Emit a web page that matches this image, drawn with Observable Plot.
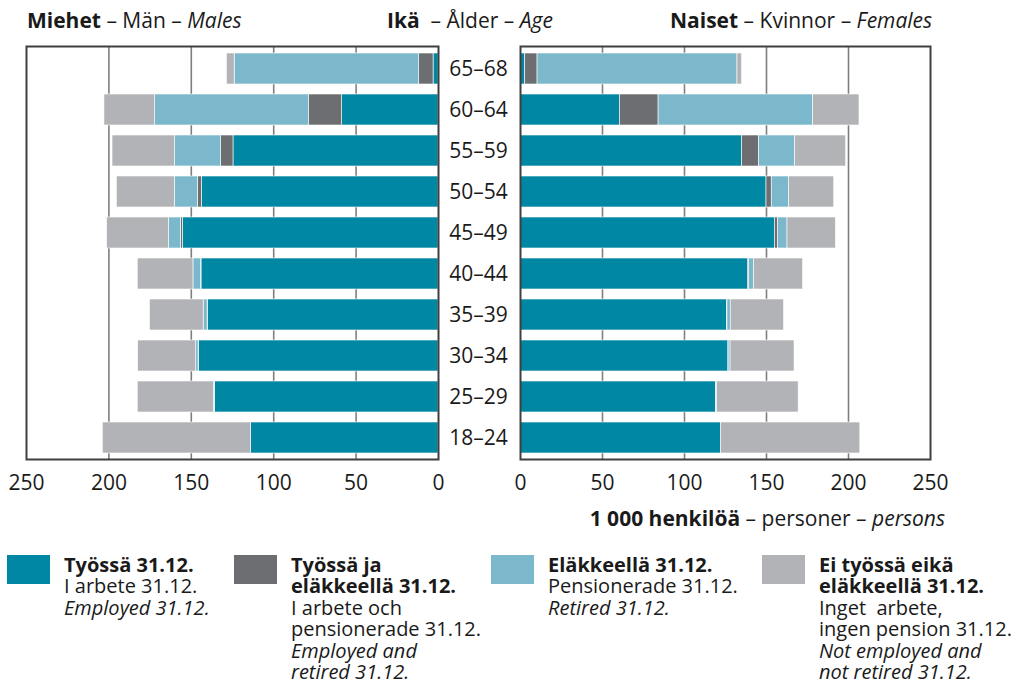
<!DOCTYPE html>
<html>
<head>
<meta charset="utf-8">
<script src="https://cdn.jsdelivr.net/npm/d3@7"></script>
<script src="https://cdn.jsdelivr.net/npm/@observablehq/plot@0.6"></script>
<style>
  html, body { margin: 0; padding: 0; background: #fff; }
  body { width: 1027px; height: 681px; position: relative; overflow: hidden; font-family: "Open Sans", "Noto Sans", sans-serif; color: #1a1a1a; }
  .abs { position: absolute; white-space: nowrap; }
  .hdr { font-size: 21px; line-height: 24px; }
  .leg { font-size: 20px; line-height: 21.4px; }
  .sw { position: absolute; width: 43px; height: 29px; }
  svg { overflow: visible; }
</style>
</head>
<body>
<div id="left" class="abs" style="left:0;top:0"></div>
<div id="right" class="abs" style="left:448px;top:0"></div>

<div class="abs hdr" style="left:27px;top:8px"><b>Miehet</b> – Män – <i>Males</i></div>
<div class="abs hdr" style="left:387px;top:8px"><b>Ikä</b>&nbsp; – Ålder – <i>Age</i></div>
<div class="abs hdr" style="left:670px;top:8px"><b>Naiset</b> – Kvinnor – <i>Females</i></div>
<div class="abs hdr" style="right:82px;top:506px"><b>1 000 henkilöä</b> – personer – <i>persons</i></div>

<div id="legend"></div>

<script>
// Categories (top to bottom)
const ages = ["65–68", "60–64", "55–59", "50–54", "45–49", "40–44", "35–39", "30–34", "25–29", "18–24"];
const seriesNames = ["Työssä", "Työssä ja eläkkeellä", "Eläkkeellä", "Ei työssä eikä eläkkeellä"];
const colors = ["#0087a3", "#6d6e71", "#7bb8cb", "#b2b3b6"];
const xTicks = [0, 50, 100, 150, 200, 250];
const gridTicks = [50, 100, 150, 200];

// Males, 1 000 persons
const maleEmployed = [3, 58.5, 124.4, 143.6, 155.1, 143.8, 139.9, 145.4, 135.7, 113.8];
const maleBoth     = [8.7, 20, 7.5, 2.4, 1.2, 0.3, 0.2, 0.2, 0.1, 0];
const maleRetired  = [112, 93.4, 28, 14, 7.3, 4.6, 2.4, 1.4, 0.5, 0];
const maleNeither  = [4.7, 30.8, 37.9, 35.2, 37.5, 33.8, 32.6, 35.2, 46.2, 89.9];

// Females, 1 000 persons
const femaleEmployed = [2.9, 60.6, 135.1, 150, 155.1, 138.6, 126, 126.8, 119.2, 122.3];
const femaleBoth     = [7.5, 23.6, 10.4, 3.2, 1.8, 0.8, 0.2, 0.1, 0.1, 0];
const femaleRetired  = [121.9, 94.2, 22, 10.6, 5.9, 3, 2, 1.2, 0.5, 0];
const femaleNeither  = [2.8, 28.3, 31.1, 27.5, 29.5, 29.9, 32.5, 39, 49.8, 84.9];

// Legend texts
const legendItems = [
  {bold: ["Työssä 31.12."], plain: ["I arbete 31.12."], ital: ["Employed 31.12."]},
  {bold: ["Työssä ja", "eläkkeellä 31.12."], plain: ["I arbete och", "pensionerade 31.12."], ital: ["Employed and", "retired 31.12."]},
  {bold: ["Eläkkeellä 31.12."], plain: ["Pensionerade 31.12."], ital: ["Retired 31.12."]},
  {bold: ["Ei työssä eikä", "eläkkeellä 31.12."], plain: ["Inget  arbete,", "ingen pension 31.12."], ital: ["Not employed and", "not retired 31.12."]}
];

function toLong(arrs) {
  return ages.flatMap((a, i) => seriesNames.map((s, j) => ({age: a, status: s, value: arrs[j][i]})));
}
const maleData = toLong([maleEmployed, maleBoth, maleRetired, maleNeither]);
const femaleData = toLong([femaleEmployed, femaleBoth, femaleRetired, femaleNeither]);

const common = {
  height: 499,
  marginTop: 46,
  marginBottom: 40,
  style: {fontFamily: "'Open Sans', 'Noto Sans', sans-serif", fontSize: "21px", color: "#1a1a1a", background: "transparent", overflow: "visible"},
  y: {domain: ages, paddingInner: 0.25, paddingOuter: 0.125, axis: null},
  color: {domain: seriesNames, range: colors}
};

function panel(data, reverse, extra, yAxis) {
  return Plot.plot({
    ...common,
    ...extra,
    x: {domain: [0, 250], reverse, axis: null},
    marks: [
      Plot.gridX(gridTicks, {stroke: "#7f7f7f", strokeOpacity: 1, strokeWidth: 1.6}),
      Plot.barX(data, Plot.stackX({x: "value", y: "age", fill: "status", order: seriesNames, stroke: "white", strokeWidth: 0.6})),
      Plot.axisX(xTicks, {anchor: "bottom", tickSize: 0, tickPadding: 16, fontSize: 21, tickFormat: d => String(d), label: null}),
      ...(yAxis ? [Plot.axisY({anchor: "left", tickSize: 0, tickPadding: 42, textAnchor: "middle", fontSize: 21, label: null})] : []),
      Plot.frame({stroke: "#3f3f3f", strokeWidth: 2})
    ]
  });
}

document.getElementById("left").appendChild(
  panel(maleData, true, {width: 448, marginLeft: 26, marginRight: 10}, false)
);
document.getElementById("right").appendChild(
  panel(femaleData, false, {width: 530, marginLeft: 72, marginRight: 48}, true)
);

// Legend
const legendX = [7, 234, 491, 762];
const legend = document.getElementById("legend");
legendItems.forEach((it, i) => {
  const sw = document.createElement("div");
  sw.className = "sw";
  sw.style.left = legendX[i] + "px";
  sw.style.top = "555px";
  sw.style.background = colors[i];
  legend.appendChild(sw);
  const t = document.createElement("div");
  t.className = "abs leg";
  t.style.left = (legendX[i] + 57) + "px";
  t.style.top = "554px";
  t.innerHTML = it.bold.map(s => "<b>" + s + "</b>").concat(it.plain, it.ital.map(s => "<i>" + s + "</i>")).join("<br>").replace(/  /g, "&nbsp; ");
  legend.appendChild(t);
});
</script>
</body>
</html>
